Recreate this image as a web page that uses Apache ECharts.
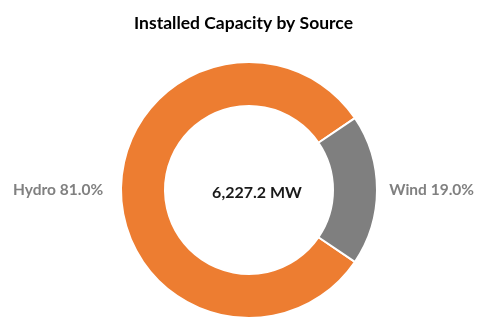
<!DOCTYPE html>
<html><head><meta charset="utf-8">
<script src="https://cdn.jsdelivr.net/npm/echarts@6/dist/echarts.min.js"></script>
<style>html,body{margin:0;padding:0;background:#fff}#c{width:487px;height:326px}</style>
</head><body><div id="c"></div>
<script>
const categories = ["Hydro", "Wind"];
const shares = [81.0, 19.0];
const centerText = "6,227.2 MW";
const titleText = "Installed Capacity by Source";
const colors = ["#ED7D31", "#7F7F7F"];

const chart = echarts.init(document.getElementById('c'));
chart.setOption({
  animation: false,
  title: [{
    text: titleText, left: 'center', top: 9,
    textStyle: {fontFamily: 'Lato', fontWeight: 'bold', fontSize: 17.5, color: '#000'}
  }, {
    text: centerText, left: 252, top: 180, textAlign: 'center',
    textStyle: {fontFamily: 'Lato', fontWeight: 'bold', fontSize: 16, color: '#1a1a1a'}
  }],
  series: [{
    type: 'pie',
    center: [249, 190],
    radius: [84, 128],
    startAngle: -34.2,
    clockwise: true,
    itemStyle: {borderColor: '#fff', borderWidth: 2},
    label: {
      show: true, position: 'outside', alignTo: 'edge', edgeDistance: 13,
      overflow: 'none',
      formatter: p => p.name + ' ' + p.value.toFixed(1) + '%',
      fontFamily: 'Lato', fontWeight: 'bold', fontSize: 15.5, color: '#808080'
    },
    labelLine: {show: false, length: 10, length2: 0},
    data: categories.map((c, i) => ({name: c, value: shares[i], itemStyle: {color: colors[i]}}))
  }]
});
</script></body></html>
